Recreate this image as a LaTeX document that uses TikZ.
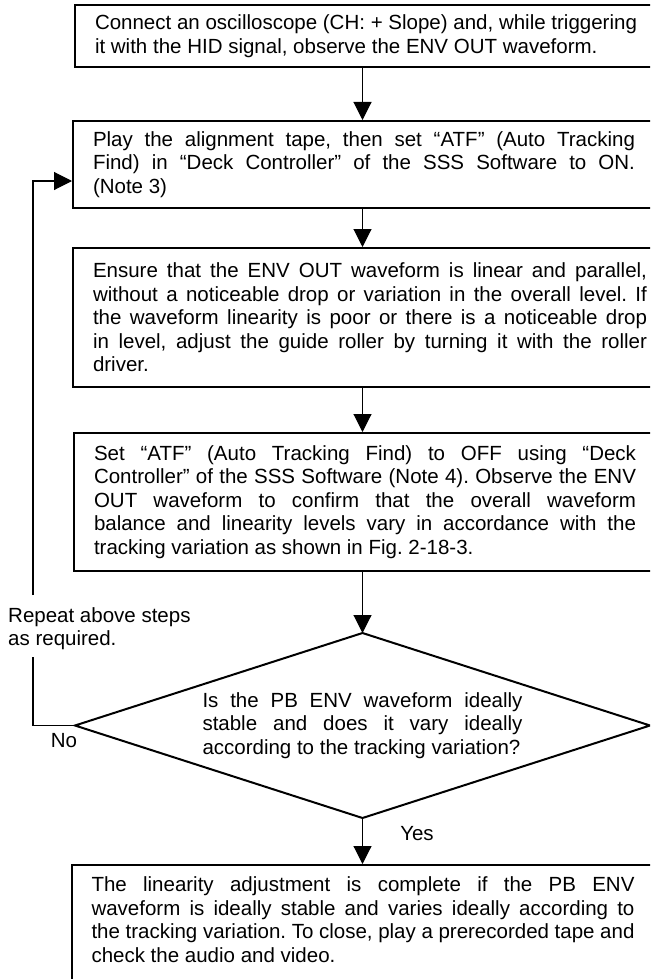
\documentclass[tikz,border=0pt]{standalone}
\usepackage{fontspec}
\setmainfont{Liberation Sans}
\usetikzlibrary{arrows.meta,shapes.geometric}
\newcommand\flowfont{\fontsize{20.5}{23.5}\selectfont\frenchspacing\hyphenpenalty=10000\exhyphenpenalty=10000\emergencystretch=20pt}
\begin{document}
\begin{tikzpicture}[x=1pt,y=1pt,
  stepbox/.style={draw,line width=2pt,anchor=north west,align=justify,inner xsep=20pt,inner ysep=6pt,font=\flowfont},
  decision/.style={draw,line width=2pt,diamond,aspect=3.108,minimum width=575pt,minimum height=185pt,inner sep=0pt,outer sep=0pt,align=justify,text width=320pt,font=\flowfont},
  lbl/.style={inner sep=0pt,align=left,font=\flowfont},
  conn/.style={line width=1.1pt},
  arr/.style={line width=1.1pt,-{Triangle[width=18pt,length=18pt]}}]
\useasboundingbox (0,0) rectangle (650,-979);
\clip (0,0) rectangle (650,-979);

\node[stepbox,text width=542pt,minimum height=62pt] (b1) at (74,-4)
 {Connect an oscilloscope (CH: + Slope) and, while triggering\linebreak it with the HID signal, observe the ENV OUT waveform.};
\node[stepbox,text width=542pt,minimum height=87pt] (b2) at (72,-120)
 {Play the alignment tape, then set “ATF” (Auto Tracking\linebreak Find) in “Deck Controller” of the SSS Software to ON.\linebreak (Note 3)};
\node[stepbox,text width=554pt,minimum height=139pt] (b3) at (72,-247)
 {Ensure that the ENV OUT waveform is linear and parallel,\linebreak without a noticeable drop or variation in the overall level. If\linebreak the waveform linearity is poor or there is a noticeable drop\linebreak in level, adjust the guide roller by turning it with the roller\linebreak driver.};
\node[stepbox,text width=542pt,minimum height=138pt] (b4) at (73,-432)
 {Set “ATF” (Auto Tracking Find) to OFF using “Deck\linebreak Controller” of the SSS Software (Note 4). Observe the ENV\linebreak OUT waveform to confirm that the overall waveform\linebreak balance and linearity levels vary in accordance with the\linebreak tracking variation as shown in Fig. 2-18-3.};
\node[decision] (d) at (362.5,-725.5)
 {Is the PB ENV waveform ideally\linebreak stable and does it vary ideally\linebreak according to the tracking variation?};
\node[stepbox,text width=543pt,inner ysep=12pt,text depth=100pt] (b5) at (70.5,-864)
 {The linearity adjustment is complete if the PB ENV\linebreak waveform is ideally stable and varies ideally according to\linebreak the tracking variation. To close, play a prerecorded tape and\linebreak check the audio and video.};

\node[lbl,anchor=west] (rep) at (8,-628.5) {Repeat above steps\\as required.};
\node[lbl] (no) at (64,-741) {No};
\node[lbl] (yes) at (417,-834) {Yes};

\draw[arr] (b1.south -| d.north) -- (b2.north -| d.north);
\draw[arr] (b2.south -| d.north) -- (b3.north -| d.north);
\draw[arr] (b3.south -| d.north) -- (b4.north -| d.north);
\draw[arr] (b4.south -| d.north) -- (d.north);
\draw[arr] (d.south) -- (b5.north -| d.north);

\coordinate (lpa) at (33,-657);
\coordinate (lpb) at (33,-595);
\coordinate (lpc) at (33,-181);
\draw[conn] (d.west) -| (lpa);
\draw[arr] (lpb) -- (lpc) -- (lpc -| b2.west);
\end{tikzpicture}
\end{document}
